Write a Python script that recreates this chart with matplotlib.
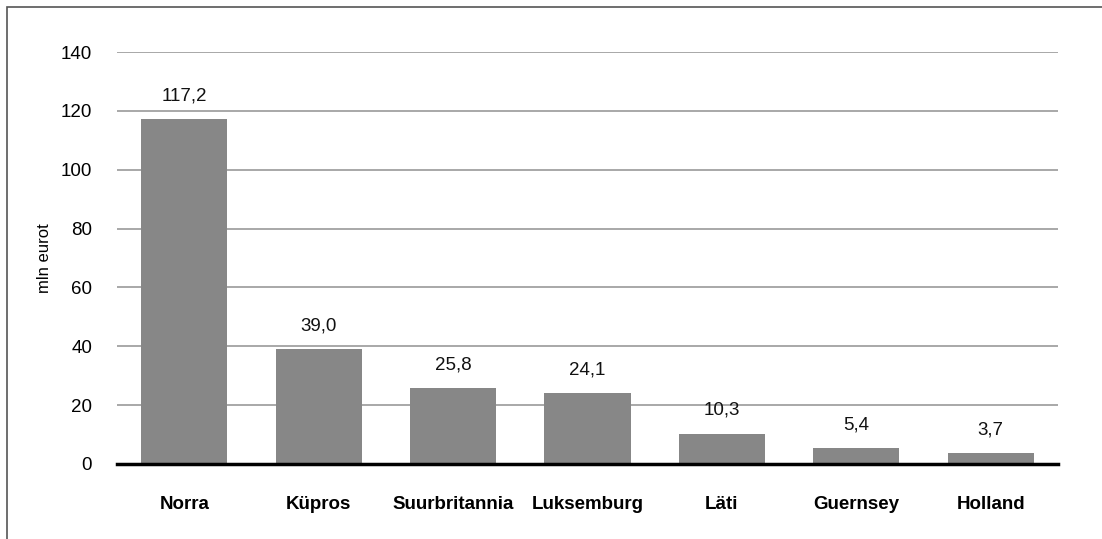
import matplotlib
matplotlib.use('agg')
import matplotlib.pyplot as plt
from matplotlib.patches import Rectangle

# data
riigid = ['Norra', 'Küpros', 'Suurbritannia', 'Luksemburg', 'Läti', 'Guernsey', 'Holland']
vaartused = [117.2, 39.0, 25.8, 24.1, 10.3, 5.4, 3.7]
y_ticks = [0, 20, 40, 60, 80, 100, 120, 140]

plt.rcParams['font.family'] = ['Liberation Sans', 'DejaVu Sans']

fig = plt.figure(figsize=(11.02, 5.39), dpi=100)
ax = fig.add_axes([117/1102, 1 - 464/539, (1058 - 117)/1102, (464 - 52)/539])

# outer frame (top and left edges visible)
fig.patches.append(Rectangle((7/1102, -0.1), 1.2, 1 - 7/539 + 0.1,
                             transform=fig.transFigure, fill=False,
                             edgecolor='#555555', lw=1.2))

x = range(len(riigid))
bars = ax.bar(x, vaartused, width=0.64, color='#878787', zorder=3)

for i, v in enumerate(vaartused):
    ax.text(i, v + 5.0, f'{v:.1f}'.replace('.', ','), ha='center', va='bottom',
            fontsize=13.5, color='#111111')

ax.set_xlim(-0.5, len(riigid) - 0.5)
ax.set_ylim(0, 140)
ax.set_yticks(y_ticks)
ax.set_yticklabels([str(t) for t in y_ticks], fontsize=13.5)
ax.set_xticks(list(x))
ax.set_xticklabels(riigid, fontsize=13.5, fontweight='bold')
ax.tick_params(axis='both', length=0)
ax.tick_params(axis='y', pad=18)
ax.tick_params(axis='x', pad=23)

ax.yaxis.grid(True, color='#a8a8a8', lw=1.4, zorder=0)
for s in ['top', 'right', 'left']:
    ax.spines[s].set_visible(False)
ax.spines['bottom'].set_linewidth(2.5)
ax.spines['bottom'].set_color('black')
ax.spines['bottom'].set_zorder(4)

ax.set_ylabel('mln eurot', fontsize=12)
ax.yaxis.set_label_coords(-65/941, 0.5)

fig.savefig('out.png', dpi=100)
